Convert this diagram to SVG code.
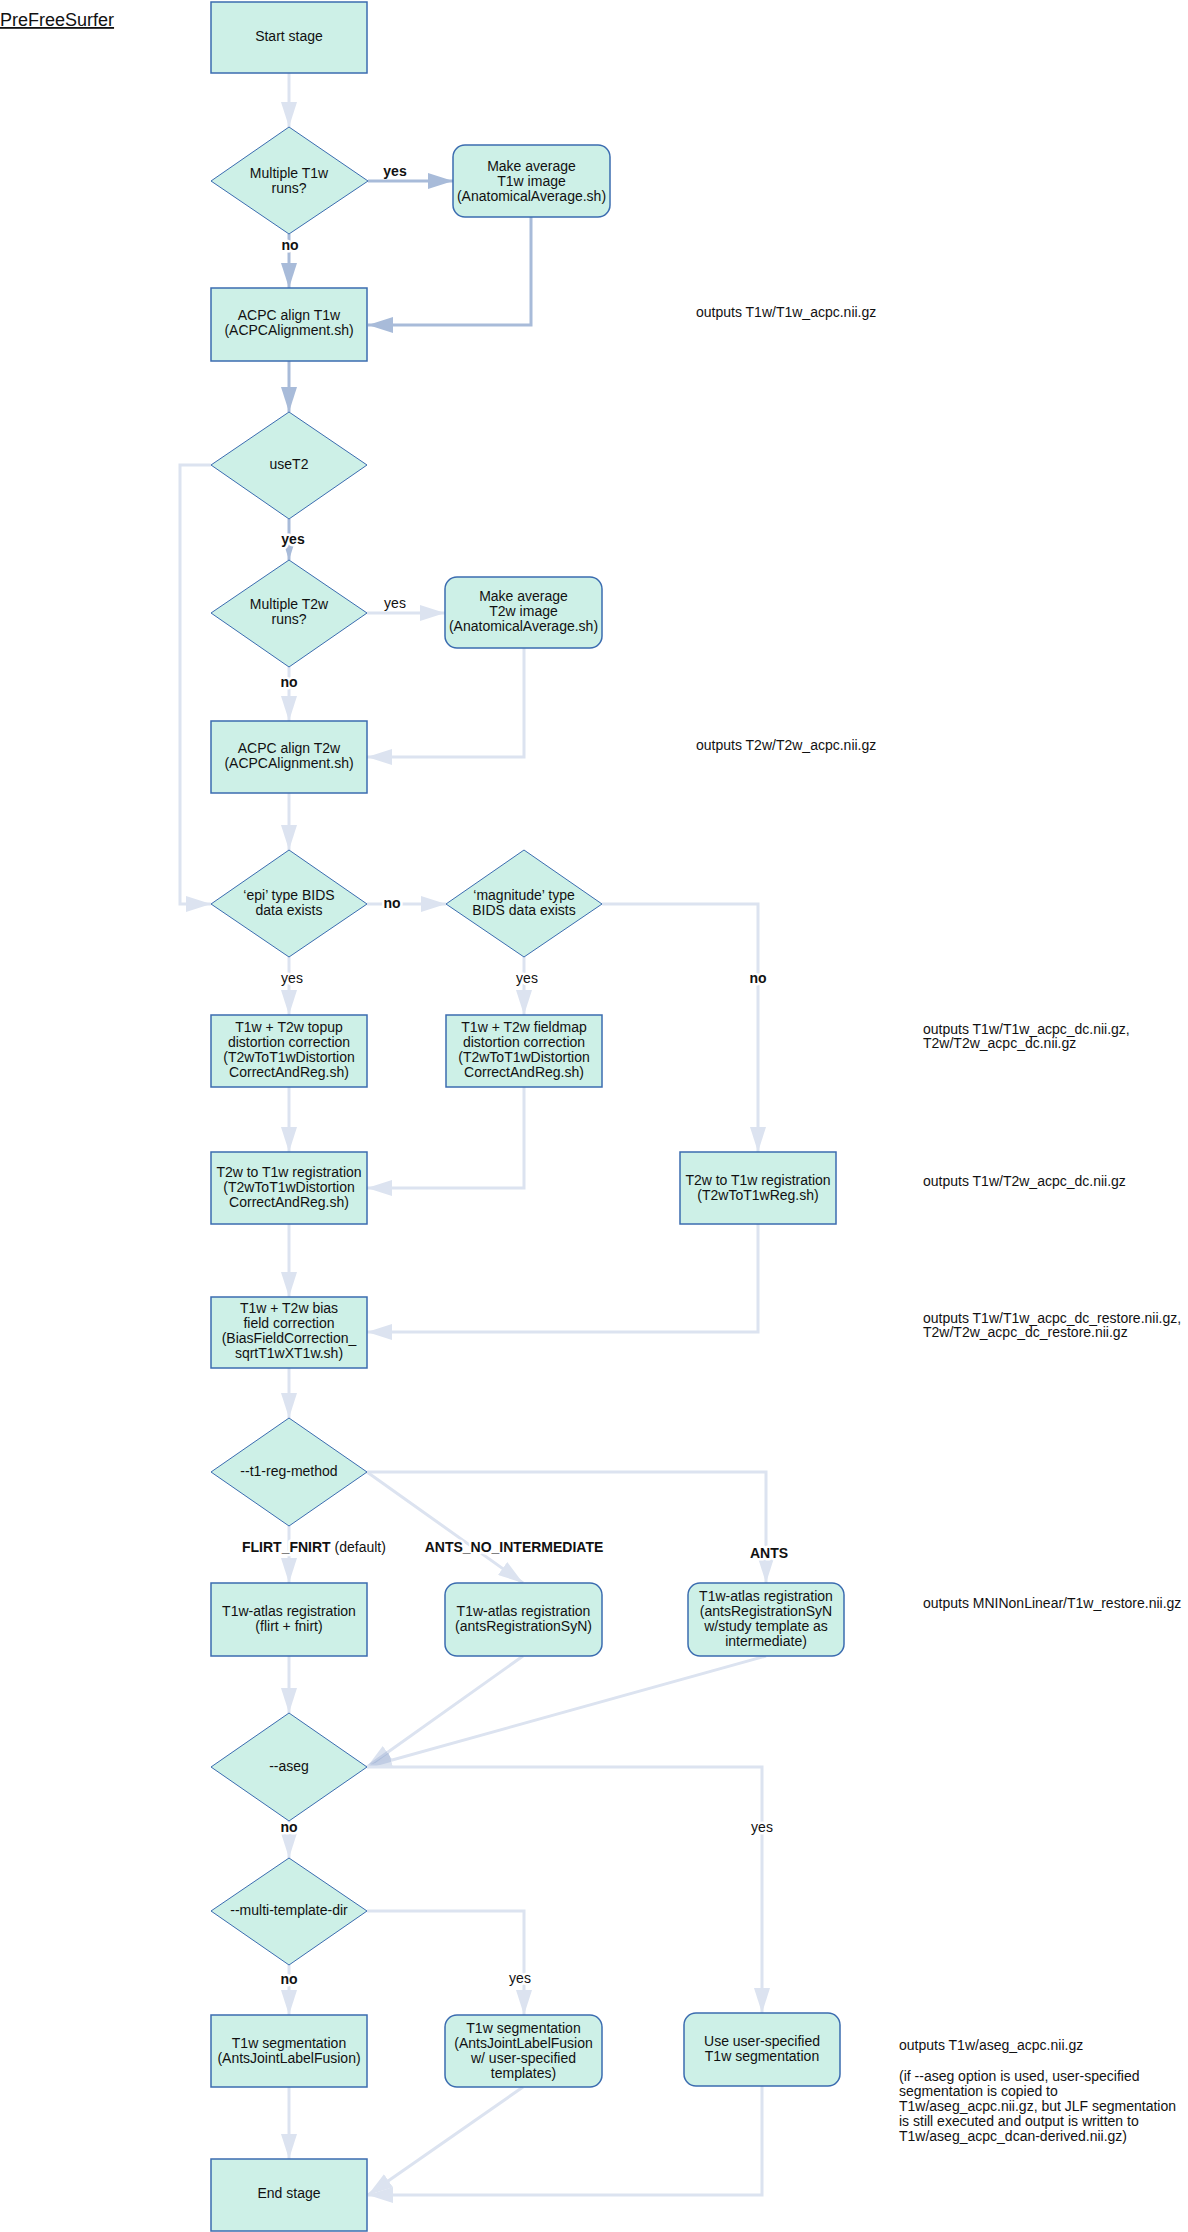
<svg xmlns="http://www.w3.org/2000/svg" width="1188" height="2232" viewBox="0 0 1188 2232">
<style>
text{font-family:"Liberation Sans",Arial,sans-serif;font-size:14px;fill:#111}
.c{text-anchor:middle}
.b{font-weight:bold}
.bg{stroke:#fff;stroke-width:5px;paint-order:stroke;stroke-linejoin:round}
.box{fill:#cdf0e7;stroke:#3b6cb0;stroke-width:1.5}
.dia{fill:#cdf0e7;stroke:#3b6cb0;stroke-width:1}
.l{fill:none;stroke:#dce3f0;stroke-width:3;marker-end:url(#ah)}
.d{fill:none;stroke:#a8bbd9;stroke-width:3;marker-end:url(#ahd)}
.t{fill:none;stroke:#dce3f0;stroke-width:3;marker-end:url(#aht)}
.title{font-size:18px;text-decoration:underline}
</style>
<defs>
<marker id="ah" markerUnits="userSpaceOnUse" markerWidth="25" markerHeight="16" refX="25" refY="8" orient="auto" viewBox="0 0 25 16"><path d="M0,0L25,8L0,16z" fill="#dce3f0"/></marker>
<marker id="ahd" markerUnits="userSpaceOnUse" markerWidth="25" markerHeight="16" refX="25" refY="8" orient="auto" viewBox="0 0 25 16"><path d="M0,0L25,8L0,16z" fill="#a8bbd9"/></marker>
<marker id="aht" markerUnits="userSpaceOnUse" markerWidth="25" markerHeight="16" refX="25" refY="8" orient="auto" viewBox="0 0 25 16"><path d="M0,0L25,8L0,16z" fill="#6f8cc0" fill-opacity="0.25"/></marker>
</defs>
<rect width="1188" height="2232" fill="#fff"/>
<text class="title" x="0" y="26">PreFreeSurfer</text>

<g id="connectors">
<path class="l" d="M289,73V127"/>
<path class="d" d="M368,181H453"/>
<path class="d" d="M289,234V288"/>
<path class="d" d="M531,217V325H368"/>
<path class="d" d="M289,361V412"/>
<path class="l" d="M211,465H180V904H211"/>
<path class="d" d="M289,519V560"/>
<path class="l" d="M367,613H445"/>
<path class="l" d="M524,648V757H367"/>
<path class="l" d="M289,667V721"/>
<path class="l" d="M289,793V850"/>
<path class="l" d="M367,904H446"/>
<path class="l" d="M289,957V1015"/>
<path class="l" d="M524,957V1015"/>
<path class="l" d="M602,904H758V1152"/>
<path class="l" d="M289,1087V1152"/>
<path class="l" d="M524,1087V1188H367"/>
<path class="l" d="M289,1224V1297"/>
<path class="l" d="M758,1224V1332H367"/>
<path class="l" d="M289,1368V1418"/>
<path class="l" d="M289,1526V1583"/>
<path class="l" d="M367,1472L523,1583"/>
<path class="l" d="M367,1472H766V1583"/>
<path class="l" d="M289,1656V1713"/>
<path class="t" d="M523,1656L367,1767"/>
<path class="t" d="M766,1656L367,1767"/>
<path class="l" d="M367,1767H762V2013"/>
<path class="l" d="M289,1821V1858"/>
<path class="l" d="M289,1965V2015"/>
<path class="l" d="M367,1911H524V2015"/>
<path class="l" d="M289,2087V2159"/>
<path class="l" d="M523,2087L368,2195"/>
<path class="l" d="M762,2086V2195H368"/>
</g>

<g id="edge-labels">
<text class="c b" x="395" y="176">yes</text>
<text class="c b bg" x="290" y="250">no</text>
<text class="c b bg" x="293" y="544">yes</text>
<text class="c" x="395" y="608">yes</text>
<text class="c b bg" x="289" y="687">no</text>
<text class="c b bg" x="392" y="908">no</text>
<text class="c bg" x="292" y="983">yes</text>
<text class="c bg" x="527" y="983">yes</text>
<text class="c b bg" x="758" y="983">no</text>
<text class="bg" x="242" y="1552"><tspan class="b">FLIRT_FNIRT</tspan> (default)</text>
<text class="c b bg" x="514" y="1552">ANTS_NO_INTERMEDIATE</text>
<text class="c b bg" x="769" y="1558">ANTS</text>
<text class="c b bg" x="289" y="1832">no</text>
<text class="c bg" x="762" y="1832">yes</text>
<text class="c b bg" x="289" y="1984">no</text>
<text class="c bg" x="520" y="1983">yes</text>
</g>

<g id="start"><rect class="box" x="211" y="2" width="156" height="71"/><text class="c" x="289" y="41">Start stage</text></g>
<g id="multi-t1w"><path class="dia" d="M289,127L368,181L289,234L211,181Z"/><text class="c" x="289" y="178">Multiple T1w</text><text class="c" x="289" y="193">runs?</text></g>
<g id="avg-t1w"><rect class="box" x="453" y="145" width="157" height="72" rx="12"/><text class="c" x="531.5" y="171">Make average</text><text class="c" x="531.5" y="186">T1w image</text><text class="c" x="531.5" y="201">(AnatomicalAverage.sh)</text></g>
<g id="acpc-t1w"><rect class="box" x="211" y="288" width="156" height="73"/><text class="c" x="289" y="320">ACPC align T1w</text><text class="c" x="289" y="335">(ACPCAlignment.sh)</text></g>
<g id="uset2"><path class="dia" d="M289,412L367,465L289,519L211,465Z"/><text class="c" x="289" y="469">useT2</text></g>
<g id="multi-t2w"><path class="dia" d="M289,560L367,613L289,667L211,613Z"/><text class="c" x="289" y="609">Multiple T2w</text><text class="c" x="289" y="624">runs?</text></g>
<g id="avg-t2w"><rect class="box" x="445" y="577" width="157" height="71" rx="12"/><text class="c" x="523.5" y="601">Make average</text><text class="c" x="523.5" y="616">T2w image</text><text class="c" x="523.5" y="631">(AnatomicalAverage.sh)</text></g>
<g id="acpc-t2w"><rect class="box" x="211" y="721" width="156" height="72"/><text class="c" x="289" y="753">ACPC align T2w</text><text class="c" x="289" y="768">(ACPCAlignment.sh)</text></g>
<g id="epi"><path class="dia" d="M289,850L367,904L289,957L211,904Z"/><text class="c" x="289" y="900">‘epi’ type BIDS</text><text class="c" x="289" y="915">data exists</text></g>
<g id="magnitude"><path class="dia" d="M524,850L602,904L524,957L446,904Z"/><text class="c" x="524" y="900">‘magnitude’ type</text><text class="c" x="524" y="915">BIDS data exists</text></g>
<g id="topup"><rect class="box" x="211" y="1015" width="156" height="72"/><text class="c" x="289" y="1032">T1w + T2w topup</text><text class="c" x="289" y="1047">distortion correction</text><text class="c" x="289" y="1062">(T2wToT1wDistortion</text><text class="c" x="289" y="1077">CorrectAndReg.sh)</text></g>
<g id="fieldmap"><rect class="box" x="446" y="1015" width="156" height="72"/><text class="c" x="524" y="1032">T1w + T2w fieldmap</text><text class="c" x="524" y="1047">distortion correction</text><text class="c" x="524" y="1062">(T2wToT1wDistortion</text><text class="c" x="524" y="1077">CorrectAndReg.sh)</text></g>
<g id="t2w-reg-dc"><rect class="box" x="211" y="1152" width="156" height="72"/><text class="c" x="289" y="1177">T2w to T1w registration</text><text class="c" x="289" y="1192">(T2wToT1wDistortion</text><text class="c" x="289" y="1207">CorrectAndReg.sh)</text></g>
<g id="t2w-reg"><rect class="box" x="680" y="1152" width="156" height="72"/><text class="c" x="758" y="1185">T2w to T1w registration</text><text class="c" x="758" y="1200">(T2wToT1wReg.sh)</text></g>
<g id="bias"><rect class="box" x="211" y="1297" width="156" height="71"/><text class="c" x="289" y="1313">T1w + T2w bias</text><text class="c" x="289" y="1328">field correction</text><text class="c" x="289" y="1343">(BiasFieldCorrection_</text><text class="c" x="289" y="1358">sqrtT1wXT1w.sh)</text></g>
<g id="t1-reg-method"><path class="dia" d="M289,1418L367,1472L289,1526L211,1472Z"/><text class="c" x="289" y="1476">--t1-reg-method</text></g>
<g id="flirt"><rect class="box" x="211" y="1583" width="156" height="73"/><text class="c" x="289" y="1616">T1w-atlas registration</text><text class="c" x="289" y="1631">(flirt + fnirt)</text></g>
<g id="ants-no-int"><rect class="box" x="445" y="1583" width="157" height="73" rx="12"/><text class="c" x="523.5" y="1616">T1w-atlas registration</text><text class="c" x="523.5" y="1631">(antsRegistrationSyN)</text></g>
<g id="ants"><rect class="box" x="688" y="1583" width="156" height="73" rx="12"/><text class="c" x="766" y="1601">T1w-atlas registration</text><text class="c" x="766" y="1616">(antsRegistrationSyN</text><text class="c" x="766" y="1631">w/study template as</text><text class="c" x="766" y="1646">intermediate)</text></g>
<g id="aseg"><path class="dia" d="M289,1713L367,1767L289,1821L211,1767Z"/><text class="c" x="289" y="1771">--aseg</text></g>
<g id="multi-template"><path class="dia" d="M289,1858L367,1911L289,1965L211,1911Z"/><text class="c" x="289" y="1915">--multi-template-dir</text></g>
<g id="jlf"><rect class="box" x="211" y="2015" width="156" height="72"/><text class="c" x="289" y="2048">T1w segmentation</text><text class="c" x="289" y="2063">(AntsJointLabelFusion)</text></g>
<g id="jlf-templates"><rect class="box" x="445" y="2015" width="157" height="72" rx="12"/><text class="c" x="523.5" y="2033">T1w segmentation</text><text class="c" x="523.5" y="2048">(AntsJointLabelFusion</text><text class="c" x="523.5" y="2063">w/ user-specified</text><text class="c" x="523.5" y="2078">templates)</text></g>
<g id="user-seg"><rect class="box" x="684" y="2013" width="156" height="73" rx="12"/><text class="c" x="762" y="2046">Use user-specified</text><text class="c" x="762" y="2061">T1w segmentation</text></g>
<g id="end"><rect class="box" x="211" y="2159" width="156" height="72"/><text class="c" x="289" y="2198">End stage</text></g>

<g id="notes">
<text x="696" y="317">outputs T1w/T1w_acpc.nii.gz</text>
<text x="696" y="750">outputs T2w/T2w_acpc.nii.gz</text>
<text x="923" y="1034">outputs T1w/T1w_acpc_dc.nii.gz,</text>
<text x="923" y="1048">T2w/T2w_acpc_dc.nii.gz</text>
<text x="923" y="1186">outputs T1w/T2w_acpc_dc.nii.gz</text>
<text x="923" y="1323">outputs T1w/T1w_acpc_dc_restore.nii.gz,</text>
<text x="923" y="1337">T2w/T2w_acpc_dc_restore.nii.gz</text>
<text x="923" y="1608">outputs MNINonLinear/T1w_restore.nii.gz</text>
<text x="899" y="2050">outputs T1w/aseg_acpc.nii.gz</text>
<text x="899" y="2081">(if --aseg option is used, user-specified</text>
<text x="899" y="2096">segmentation is copied to</text>
<text x="899" y="2111">T1w/aseg_acpc.nii.gz, but JLF segmentation</text>
<text x="899" y="2126">is still executed and output is written to</text>
<text x="899" y="2141">T1w/aseg_acpc_dcan-derived.nii.gz)</text>
</g>
</svg>
